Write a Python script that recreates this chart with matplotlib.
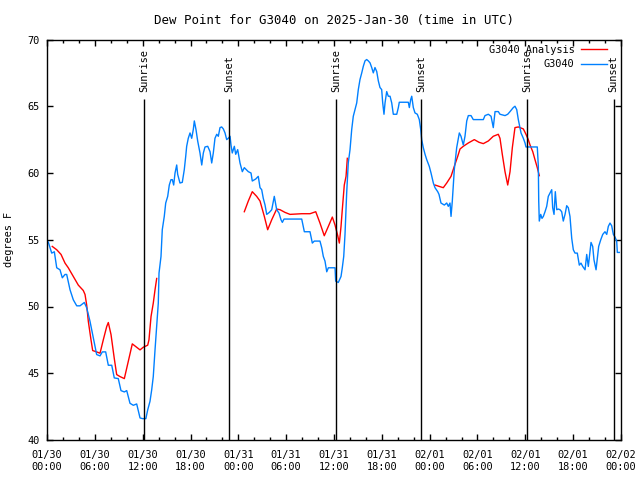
import matplotlib
matplotlib.use("Agg")
import matplotlib.pyplot as plt
import numpy as np

# hours since 2025-01-30 00:00 UTC
obs_hours = [0.16, 0.59, 0.92, 1.22, 1.63, 1.92, 2.26, 2.47, 2.89, 3.30, 3.73, 4.14, 4.68, 4.98,
             5.39, 5.81, 6.23, 6.65, 6.94, 7.36, 7.69, 8.12, 8.44, 8.94, 9.28, 9.70, 10.0, 10.41,
             10.83, 11.25, 11.67, 12.0, 12.4, 12.63, 12.92, 13.13, 13.33, 13.55, 13.76, 13.96, 14.05,
             14.30, 14.46, 14.71, 14.89, 15.14, 15.34, 15.55, 15.72, 15.89, 16.06, 16.27, 16.39,
             16.68, 16.97, 17.22, 17.40, 17.52, 17.72, 17.94, 18.15, 18.35, 18.48, 18.69, 18.90,
             19.19, 19.41, 19.61, 19.82, 20.16, 20.45, 20.66, 20.86, 21.07, 21.29, 21.49, 21.70,
             21.91, 22.12, 22.33, 22.54, 22.74, 22.96, 23.08, 23.24, 23.50, 23.67, 23.92, 24.21,
             24.50, 24.75, 25.25, 25.59, 25.75, 26.18, 26.50, 26.72, 26.93, 27.13, 27.35, 27.56,
             27.89, 28.19, 28.51, 28.81, 29.10, 29.35, 29.52, 29.73, 30.27, 31.95, 32.28, 32.99,
             33.28, 33.53, 34.24, 34.46, 34.66, 34.87, 35.09, 35.29, 36.13, 36.21, 36.54, 36.88,
             37.04, 37.22, 37.38, 37.59, 37.79, 38.01, 38.22, 38.42, 38.63, 38.85, 39.05, 39.26,
             39.48, 39.68, 39.89, 40.10, 40.30, 40.52, 40.73, 40.93, 41.14, 41.36, 41.56, 41.77,
             41.98, 42.11, 42.27, 42.40, 42.61, 42.81, 43.03, 43.24, 43.44, 43.87, 44.07, 44.19,
             45.32, 45.45, 45.62, 45.75, 45.95, 46.16, 46.45, 46.70, 46.88, 47.00, 47.20, 47.42,
             47.63, 47.95, 48.17, 48.46, 48.67, 49.01, 49.17, 49.42, 49.84, 50.14, 50.34, 50.55,
             50.68, 50.84, 51.09, 51.39, 51.72, 51.93, 52.22, 52.43, 52.65, 52.85, 53.19, 53.47,
             54.73, 54.94, 55.36, 55.70, 55.98, 56.20, 56.61, 56.82, 57.45, 57.79, 58.08, 58.49,
             58.70, 58.92, 59.12, 59.46, 59.75, 59.96, 60.08, 61.50, 61.63, 61.68, 61.75, 61.93,
             62.09, 62.26, 62.47, 62.68, 62.88, 63.10, 63.31, 63.43, 63.60, 63.76, 63.94, 64.14,
             64.35, 64.56, 64.76, 64.98, 65.19, 65.39, 65.60, 65.82, 66.02, 66.23, 66.52, 66.77,
             66.98, 67.20, 67.49, 67.70, 67.90, 68.11, 68.24, 68.45, 68.61, 68.87, 69.03, 69.20,
             69.46, 69.71, 69.99, 70.21, 70.41, 70.62, 70.83, 71.04, 71.25, 71.46, 71.54, 71.79]
obs_dewpt = [54.83, 54.0, 54.1, 52.9, 52.75, 52.15, 52.4, 52.4, 51.25, 50.5, 50.05, 50.05, 50.3, 49.9,
             48.9, 47.65, 46.4, 46.3, 46.6, 46.6, 45.6, 45.6, 44.65, 44.6, 43.7, 43.6, 43.7, 42.75,
             42.6, 42.7, 41.65, 41.6, 41.6, 42.25, 42.9, 43.75, 44.75, 46.75, 48.5, 50.25, 52.5,
             53.75, 55.75, 56.75, 57.75, 58.25, 59.1, 59.5, 59.5, 59.1, 60.0, 60.6, 59.9,
             59.25, 59.3, 60.25, 61.25, 62.0, 62.6, 63.0, 62.6, 63.25, 63.9, 63.25, 62.4,
             61.5, 60.6, 61.5, 61.95, 62.0, 61.6, 60.75, 61.5, 62.6, 62.9, 62.75, 63.4,
             63.45, 63.3, 63.0, 62.5, 62.6, 62.75, 62.1, 61.5, 62.0, 61.4, 61.75, 60.75,
             60.1, 60.4, 60.1, 60.0, 59.4, 59.55, 59.75, 58.9, 58.75, 58.1, 57.6, 56.9,
             57.05, 57.25, 58.25, 57.25, 57.0, 56.5, 56.3, 56.55, 56.55, 56.55, 55.6, 55.6,
             54.75, 54.9, 54.9, 54.4, 53.75, 53.4, 52.6, 52.9, 52.9, 51.9, 51.8, 52.25,
             52.9, 53.75, 55.4, 58.5, 60.75, 61.75, 63.25, 64.25, 64.75, 65.25, 66.25, 67.0,
             67.5, 68.0, 68.4, 68.5, 68.4, 68.25, 67.9, 67.5, 67.9, 67.6, 66.9, 66.4,
             66.25, 65.25, 64.4, 65.25, 66.1, 65.75, 65.75, 65.25, 64.4, 64.4, 64.9, 65.3,
             65.3, 64.9, 65.5, 65.75, 64.9, 64.5, 64.4, 64.0, 63.25, 62.5, 61.9, 61.4,
             61.0, 60.5, 60.0, 59.25, 58.9, 58.6, 58.4, 57.75, 57.6, 57.75, 57.5, 57.75,
             56.75, 57.9, 60.25, 61.9, 63.0, 62.75, 62.1, 62.75, 63.9, 64.3, 64.3, 64.0,
             64.0, 64.3, 64.4, 64.25, 63.4, 64.6, 64.6, 64.4, 64.3, 64.4, 64.6, 64.9,
             65.0, 64.75, 64.0, 63.0, 62.6, 62.25, 61.95, 61.95, 60.5, 57.9, 56.4, 56.9,
             56.6, 56.75, 57.1, 57.5, 58.25, 58.5, 58.75, 57.4, 56.9, 58.6, 57.25, 57.3,
             57.25, 57.1, 56.4, 56.9, 57.55, 57.4, 56.75, 55.1, 54.25, 54.0, 54.0, 53.1,
             53.25, 53.0, 52.75, 53.9, 53.0, 54.1, 54.8, 54.5, 53.5, 52.75, 53.6, 54.5,
             55.0, 55.4, 55.6, 55.4, 56.0, 56.25, 56.05, 55.4, 55.2, 54.9, 54.05, 54.05]

# analysis series, NaN marks gaps
ana_hours = [0.66, 1.22, 1.76, 2.26, 2.67, 3.30, 3.93, 4.55, 4.77, 4.98, 5.18, 5.52, 5.73, 6.23,
             6.65, 7.06, 7.49, 7.69, 8.03, 8.44, 8.74, 9.16, 9.70, 10.2, 10.7, 11.13, 11.67, 12.08,
             12.63, 12.79, 13.05, 13.33, 13.55, 13.76, 20.0,
             24.75, 25.25, 25.75, 26.3, 26.72, 27.26, 27.68, 28.19, 28.81, 29.23, 29.85, 30.48,
             31.95, 32.99, 33.71, 34.24, 34.78, 35.29, 35.79, 36.13, 36.47, 36.67, 36.88, 37.04,
             37.29, 37.51, 37.67, 43.0,
             48.67, 49.17, 49.71, 50.14, 50.68, 51.09, 51.52, 51.81, 52.22, 52.85, 53.60, 54.19,
             54.73, 55.36, 55.98, 56.61, 56.82, 57.11, 57.45, 57.79, 58.08, 58.37, 58.70, 59.12,
             59.33, 59.75, 60.08, 60.37, 60.59, 60.93, 61.21, 61.50, 61.75]
ana_dewpt = [54.5, 54.25, 53.9, 53.25, 52.9, 52.25, 51.6, 51.2, 50.9, 50.1, 48.9, 47.5, 46.7, 46.6,
             46.5, 47.5, 48.5, 48.8, 47.9, 46.1, 44.9, 44.75, 44.6, 45.9, 47.2, 47.0, 46.75, 46.95,
             47.1, 47.5, 49.25, 50.25, 51.25, 52.1, np.nan,
             57.1, 57.9, 58.6, 58.25, 57.9, 56.75, 55.75, 56.5, 57.3, 57.25, 57.05, 56.9,
             56.95, 56.95, 57.1, 56.25, 55.3, 56.0, 56.7, 56.1, 55.3, 54.75, 56.0, 57.25,
             59.1, 59.75, 61.1, np.nan,
             59.1, 59.0, 58.9, 59.25, 59.75, 60.5, 61.25, 61.8, 62.0, 62.25, 62.5, 62.3,
             62.2, 62.4, 62.75, 62.9, 62.6, 61.4, 60.1, 59.1, 60.1, 61.9, 63.4, 63.45,
             63.4, 63.3, 62.9, 62.5, 62.1, 61.6, 61.0, 60.4, 59.8]

sun_hours = [12.21, 22.87, 36.28, 46.95, 60.25, 71.07]
sun_labels = ["Sunrise", "Sunset", "Sunrise", "Sunset", "Sunrise", "Sunset"]

tick_hours = list(range(0, 73, 6))
tick_labels = ["01/30\n00:00", "01/30\n06:00", "01/30\n12:00", "01/30\n18:00",
               "01/31\n00:00", "01/31\n06:00", "01/31\n12:00", "01/31\n18:00",
               "02/01\n00:00", "02/01\n06:00", "02/01\n12:00", "02/01\n18:00",
               "02/02\n00:00"]

plt.rcParams['font.family'] = ['DejaVu Sans Mono']
plt.rcParams['font.size'] = 7.4

fig = plt.figure(figsize=(6.4, 4.8), dpi=100)
ax = fig.add_axes([47 / 640, 1 - 440 / 480, 574 / 640, 400.5 / 480])

ax.plot(ana_hours, ana_dewpt, color='#ff0000', lw=1.0, label='G3040 Analysis')
ax.plot(obs_hours, obs_dewpt, color='#0080ff', lw=1.0, label='G3040')

ax.vlines(sun_hours, 40, 65.55, color='black', lw=1.0)
for h, s in zip(sun_hours, sun_labels):
    ax.text(h, 66.1, s, rotation=90, ha='center', va='bottom')

ax.set_xlim(0, 72)
ax.set_ylim(40, 70)
ax.set_xticks(tick_hours)
ax.set_xticklabels(tick_labels, linespacing=1.25)
ax.set_xticks(np.arange(0, 73, 2), minor=True)
ax.set_yticks(range(40, 71, 5))
ax.tick_params(which='both', direction='in', top=True, right=True, width=1.0)
ax.tick_params(axis='x', which='major', length=4.3, pad=7.5)
ax.tick_params(axis='y', which='major', length=4.3, pad=5)
ax.tick_params(which='minor', length=2.2)
for sp in ax.spines.values():
    sp.set_linewidth(1.0)

ax.set_ylabel('degrees F', labelpad=10)
ax.set_title('Dew Point for G3040 on 2025-Jan-30 (time in UTC)', pad=11)

ax.legend(loc='upper right', frameon=False, markerfirst=False, handlelength=2.6,
          handletextpad=0.6, labelspacing=0.45, borderaxespad=0.3, borderpad=0.2,
          bbox_to_anchor=(0.985, 1.0))

fig.savefig('out.png', dpi=100)
